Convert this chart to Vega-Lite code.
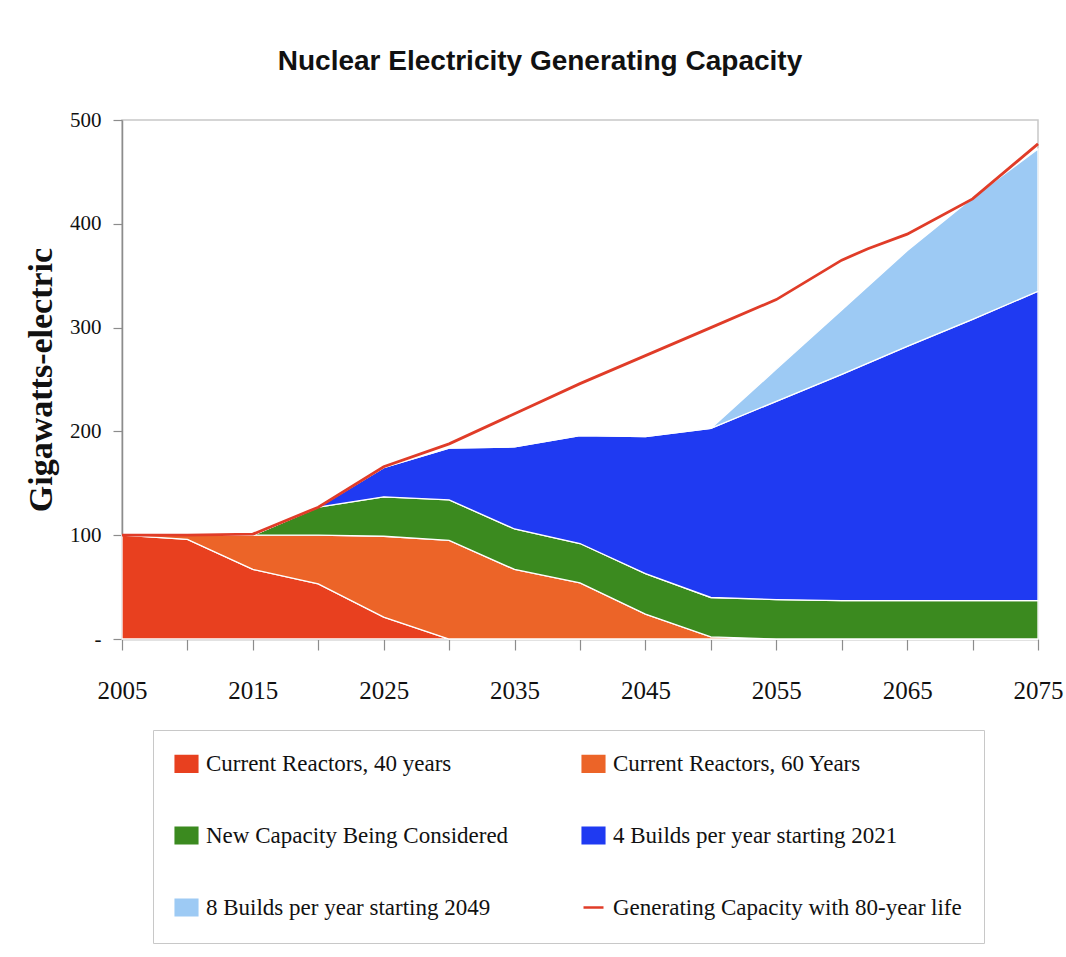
{
  "$schema": "https://vega.github.io/schema/vega-lite/v6.json",
  "width": 916,
  "height": 519,
  "autosize": {"type": "none"},
  "padding": {"left": 122, "top": 120, "right": 28, "bottom": 318},
  "background": "white",
  "title": {
    "text": "Nuclear Electricity Generating Capacity",
    "font": "Liberation Sans, sans-serif",
    "fontSize": 28,
    "fontWeight": "bold",
    "color": "#111111",
    "anchor": "middle",
    "dx": -40,
    "offset": 33
  },
  "config": {
    "view": {"stroke": "#c8c8c8", "strokeWidth": 1.5},
    "axis": {
      "labelFont": "Liberation Serif",
      "labelColor": "#111111",
      "domainColor": "#8c8c8c",
      "tickColor": "#8c8c8c",
      "domainWidth": 1.5,
      "tickWidth": 1.2,
      "grid": false,
      "zindex": 1
    },
    "legend": {
      "orient": "none",
      "legendX": 31,
      "legendY": 610,
      "direction": "horizontal",
      "columns": 2,
      "padding": 22,
      "strokeColor": "#c8c8c8",
      "symbolSize": 400,
      "symbolStrokeWidth": 2.5,
      "symbolOpacity": 1,
      "labelFont": "Liberation Serif",
      "labelFontSize": 23,
      "labelColor": "#111111",
      "labelOffset": 8,
      "labelLimit": 420,
      "columnPadding": 68,
      "rowPadding": 45
    }
  },
  "datasets": {
    "areas": [
      {"year": 2005, "series": "Current Reactors, 40 years", "gw": 100},
      {"year": 2010, "series": "Current Reactors, 40 years", "gw": 96},
      {"year": 2015, "series": "Current Reactors, 40 years", "gw": 67},
      {"year": 2020, "series": "Current Reactors, 40 years", "gw": 53},
      {"year": 2025, "series": "Current Reactors, 40 years", "gw": 21},
      {"year": 2030, "series": "Current Reactors, 40 years", "gw": 0},
      {"year": 2035, "series": "Current Reactors, 40 years", "gw": 0},
      {"year": 2040, "series": "Current Reactors, 40 years", "gw": 0},
      {"year": 2045, "series": "Current Reactors, 40 years", "gw": 0},
      {"year": 2050, "series": "Current Reactors, 40 years", "gw": 0},
      {"year": 2055, "series": "Current Reactors, 40 years", "gw": 0},
      {"year": 2060, "series": "Current Reactors, 40 years", "gw": 0},
      {"year": 2065, "series": "Current Reactors, 40 years", "gw": 0},
      {"year": 2070, "series": "Current Reactors, 40 years", "gw": 0},
      {"year": 2075, "series": "Current Reactors, 40 years", "gw": 0},
      {"year": 2005, "series": "Current Reactors, 60 Years", "gw": 0},
      {"year": 2010, "series": "Current Reactors, 60 Years", "gw": 4},
      {"year": 2015, "series": "Current Reactors, 60 Years", "gw": 33},
      {"year": 2020, "series": "Current Reactors, 60 Years", "gw": 47},
      {"year": 2025, "series": "Current Reactors, 60 Years", "gw": 78},
      {"year": 2030, "series": "Current Reactors, 60 Years", "gw": 95},
      {"year": 2035, "series": "Current Reactors, 60 Years", "gw": 67},
      {"year": 2040, "series": "Current Reactors, 60 Years", "gw": 54},
      {"year": 2045, "series": "Current Reactors, 60 Years", "gw": 24},
      {"year": 2050, "series": "Current Reactors, 60 Years", "gw": 2},
      {"year": 2055, "series": "Current Reactors, 60 Years", "gw": 0},
      {"year": 2060, "series": "Current Reactors, 60 Years", "gw": 0},
      {"year": 2065, "series": "Current Reactors, 60 Years", "gw": 0},
      {"year": 2070, "series": "Current Reactors, 60 Years", "gw": 0},
      {"year": 2075, "series": "Current Reactors, 60 Years", "gw": 0},
      {"year": 2005, "series": "New Capacity Being Considered", "gw": 0},
      {"year": 2010, "series": "New Capacity Being Considered", "gw": 0},
      {"year": 2015, "series": "New Capacity Being Considered", "gw": 0},
      {"year": 2020, "series": "New Capacity Being Considered", "gw": 27},
      {"year": 2025, "series": "New Capacity Being Considered", "gw": 38},
      {"year": 2030, "series": "New Capacity Being Considered", "gw": 39},
      {"year": 2035, "series": "New Capacity Being Considered", "gw": 39},
      {"year": 2040, "series": "New Capacity Being Considered", "gw": 38},
      {"year": 2045, "series": "New Capacity Being Considered", "gw": 39},
      {"year": 2050, "series": "New Capacity Being Considered", "gw": 38},
      {"year": 2055, "series": "New Capacity Being Considered", "gw": 38},
      {"year": 2060, "series": "New Capacity Being Considered", "gw": 37},
      {"year": 2065, "series": "New Capacity Being Considered", "gw": 37},
      {"year": 2070, "series": "New Capacity Being Considered", "gw": 37},
      {"year": 2075, "series": "New Capacity Being Considered", "gw": 37},
      {"year": 2005, "series": "4 Builds per year starting 2021", "gw": 0},
      {"year": 2010, "series": "4 Builds per year starting 2021", "gw": 0},
      {"year": 2015, "series": "4 Builds per year starting 2021", "gw": 0},
      {"year": 2020, "series": "4 Builds per year starting 2021", "gw": 0},
      {"year": 2025, "series": "4 Builds per year starting 2021", "gw": 28},
      {"year": 2030, "series": "4 Builds per year starting 2021", "gw": 50},
      {"year": 2035, "series": "4 Builds per year starting 2021", "gw": 79},
      {"year": 2040, "series": "4 Builds per year starting 2021", "gw": 104},
      {"year": 2045, "series": "4 Builds per year starting 2021", "gw": 132},
      {"year": 2050, "series": "4 Builds per year starting 2021", "gw": 163},
      {"year": 2055, "series": "4 Builds per year starting 2021", "gw": 191},
      {"year": 2060, "series": "4 Builds per year starting 2021", "gw": 218},
      {"year": 2065, "series": "4 Builds per year starting 2021", "gw": 245},
      {"year": 2070, "series": "4 Builds per year starting 2021", "gw": 271},
      {"year": 2075, "series": "4 Builds per year starting 2021", "gw": 298},
      {"year": 2005, "series": "8 Builds per year starting 2049", "gw": 0},
      {"year": 2010, "series": "8 Builds per year starting 2049", "gw": 0},
      {"year": 2015, "series": "8 Builds per year starting 2049", "gw": 0},
      {"year": 2020, "series": "8 Builds per year starting 2049", "gw": 0},
      {"year": 2025, "series": "8 Builds per year starting 2049", "gw": 0},
      {"year": 2030, "series": "8 Builds per year starting 2049", "gw": 0},
      {"year": 2035, "series": "8 Builds per year starting 2049", "gw": 0},
      {"year": 2040, "series": "8 Builds per year starting 2049", "gw": 0},
      {"year": 2045, "series": "8 Builds per year starting 2049", "gw": 0},
      {"year": 2050, "series": "8 Builds per year starting 2049", "gw": 0},
      {"year": 2055, "series": "8 Builds per year starting 2049", "gw": 31},
      {"year": 2060, "series": "8 Builds per year starting 2049", "gw": 62},
      {"year": 2065, "series": "8 Builds per year starting 2049", "gw": 92},
      {"year": 2070, "series": "8 Builds per year starting 2049", "gw": 117},
      {"year": 2075, "series": "8 Builds per year starting 2049", "gw": 137}
    ],
    "total": [
      {"year": 2005, "series": "Generating Capacity with 80-year life", "gw": 100},
      {"year": 2010, "series": "Generating Capacity with 80-year life", "gw": 100},
      {"year": 2015, "series": "Generating Capacity with 80-year life", "gw": 101},
      {"year": 2020, "series": "Generating Capacity with 80-year life", "gw": 127},
      {"year": 2025, "series": "Generating Capacity with 80-year life", "gw": 166},
      {"year": 2030, "series": "Generating Capacity with 80-year life", "gw": 188},
      {"year": 2035, "series": "Generating Capacity with 80-year life", "gw": 217},
      {"year": 2040, "series": "Generating Capacity with 80-year life", "gw": 246},
      {"year": 2045, "series": "Generating Capacity with 80-year life", "gw": 273},
      {"year": 2050, "series": "Generating Capacity with 80-year life", "gw": 300},
      {"year": 2055, "series": "Generating Capacity with 80-year life", "gw": 327},
      {"year": 2060, "series": "Generating Capacity with 80-year life", "gw": 365},
      {"year": 2062, "series": "Generating Capacity with 80-year life", "gw": 376},
      {"year": 2065, "series": "Generating Capacity with 80-year life", "gw": 390},
      {"year": 2070, "series": "Generating Capacity with 80-year life", "gw": 424},
      {"year": 2075, "series": "Generating Capacity with 80-year life", "gw": 477}
    ]
  },
  "encoding": {
    "x": {
      "field": "year",
      "type": "quantitative",
      "scale": {"domain": [2005, 2075], "nice": false, "zero": false},
      "axis": {
        "title": null,
        "values": [2005, 2010, 2015, 2020, 2025, 2030, 2035, 2040, 2045, 2050, 2055, 2060, 2065, 2070, 2075],
        "format": "d",
        "labelExpr": "(datum.value - 2005) % 10 == 0 ? datum.label : ''",
        "labelFontSize": 25,
        "labelPadding": 28,
        "tickSize": 11,
        "labelFlush": false
      }
    },
    "y": {
      "field": "gw",
      "type": "quantitative",
      "scale": {"domain": [0, 500], "nice": false},
      "axis": {
        "title": "Gigawatts-electric",
        "titleFont": "Liberation Serif",
        "titleFontSize": 34,
        "titleFontWeight": "bold",
        "titleColor": "#111111",
        "titlePadding": 11,
        "values": [0, 100, 200, 300, 400, 500],
        "labelExpr": "datum.value == 0 ? '-' : datum.label",
        "labelFontSize": 21,
        "labelPadding": 12,
        "tickSize": 9
      }
    },
    "color": {
      "field": "series",
      "type": "nominal",
      "title": null,
      "sort": ["Current Reactors, 40 years", "Current Reactors, 60 Years", "New Capacity Being Considered", "4 Builds per year starting 2021", "8 Builds per year starting 2049", "Generating Capacity with 80-year life"],
      "scale": {
        "domain": ["Current Reactors, 40 years", "Current Reactors, 60 Years", "New Capacity Being Considered", "4 Builds per year starting 2021", "8 Builds per year starting 2049", "Generating Capacity with 80-year life"],
        "range": ["#e8401f", "#ec6428", "#3b8a1f", "#1f3af2", "#9dcaf4", "#e03c28"]
      }
    }
  },
  "layer": [
    {
      "data": {"name": "areas"},
      "transform": [
        {"calculate": "indexof(['Current Reactors, 40 years', 'Current Reactors, 60 Years', 'New Capacity Being Considered', '4 Builds per year starting 2021', '8 Builds per year starting 2049'], datum.series)", "as": "stack_rank"}
      ],
      "mark": {"type": "area", "stroke": "white", "strokeWidth": 1.3, "opacity": 1},
      "encoding": {
        "y": {"field": "gw", "type": "quantitative", "stack": "zero"},
        "order": {"field": "stack_rank", "type": "quantitative", "sort": "ascending"}
      }
    },
    {
      "data": {"name": "total"},
      "mark": {"type": "line", "strokeWidth": 2.8},
      "encoding": {}
    },
    {
      "data": {"name": "total"},
      "mark": {"type": "point", "filled": true, "opacity": 0, "size": 1},
      "encoding": {
        "shape": {
          "field": "series",
          "type": "nominal",
          "title": null,
          "scale": {
            "domain": ["Current Reactors, 40 years", "Current Reactors, 60 Years", "New Capacity Being Considered", "4 Builds per year starting 2021", "8 Builds per year starting 2049", "Generating Capacity with 80-year life"],
            "range": ["M-1.08,-0.78H1.08V0.78H-1.08Z", "M-1.08,-0.78H1.08V0.78H-1.08Z", "M-1.08,-0.78H1.08V0.78H-1.08Z", "M-1.08,-0.78H1.08V0.78H-1.08Z", "M-1.08,-0.78H1.08V0.78H-1.08Z", "stroke"]
          }
        }
      }
    }
  ]
}
